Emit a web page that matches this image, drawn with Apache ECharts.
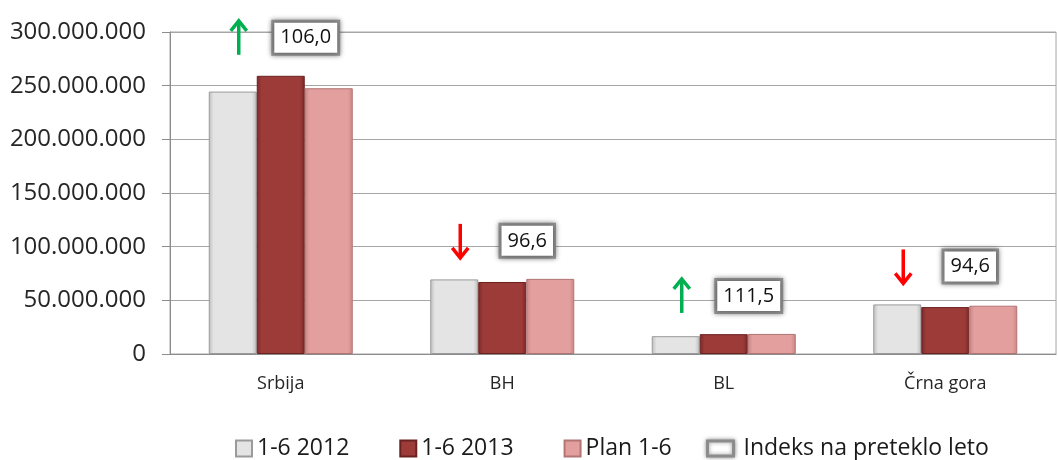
<!DOCTYPE html>
<html>
<head>
<meta charset="utf-8">
<script src="https://cdn.jsdelivr.net/npm/echarts@6/dist/echarts.min.js"></script>
<style>
  html, body { margin: 0; padding: 0; background: #fff; }
  #chart { width: 1058px; height: 460px; }
</style>
</head>
<body>
<div id="chart"></div>
<script>
// kategorije i vrednosti procitane sa slike
const categories = ['Srbija', 'BH', 'BL', 'Črna gora']
const values2012 = [244500000, 69500000, 16600000, 46200000]
const values2013 = [259200000, 67100000, 18500000, 43700000]
const plan16 = [247600000, 70000000, 18700000, 45000000]
const indeks = [106.0, 96.6, 111.5, 94.6]

const FONT = '"Open Sans", "DejaVu Sans", sans-serif'

// boje stubaca (ivice tamnije zbog 3D izgleda)
function bevel (edge, base) {
  return new echarts.graphic.LinearGradient(0, 0, 1, 0, [
    { offset: 0, color: edge },
    { offset: 0.1, color: base },
    { offset: 0.9, color: base },
    { offset: 1, color: edge }
  ])
}

function formatNum (v) {
  return String(v).replace(/\B(?=(\d{3})+(?!\d))/g, '.')
}

// za svaki region najveca vrednost, iznad nje ide oznaka indeksa
const indeksData = categories.map((c, i) => [i, Math.max(values2012[i], values2013[i], plan16[i]), indeks[i]])

const chart = echarts.init(document.getElementById('chart'))

const option = {
  animation: false,
  textStyle: { fontFamily: FONT },
  grid: {
    left: 170,
    right: 2,
    top: 32,
    bottom: 106,
    show: true,
    borderColor: '#a6a6a6',
    borderWidth: 1
  },
  legend: [
    {
      left: 235,
      top: 437,
      padding: 0,
      itemWidth: 16,
      itemHeight: 16,
      itemGap: 50,
      icon: 'rect',
      textStyle: { fontSize: 23, color: '#1a1a1a', fontFamily: FONT },
      data: ['1-6 2012', '1-6 2013', 'Plan 1-6']
    },
    {
      left: 706,
      top: 437,
      padding: 0,
      itemWidth: 26,
      itemHeight: 15,
      textStyle: { fontSize: 23, color: '#1a1a1a', fontFamily: FONT, padding: [0, 0, 0, 5] },
      data: [{
        name: 'Indeks na preteklo leto',
        icon: 'rect',
        itemStyle: {
          color: '#fff',
          borderColor: '#8c8c8c',
          borderWidth: 3,
          shadowBlur: 4,
          shadowColor: 'rgba(0,0,0,0.4)'
        }
      }]
    }
  ],
  xAxis: {
    type: 'category',
    data: categories,
    axisLine: { lineStyle: { color: '#8c8c8c' } },
    axisTick: { length: 8, lineStyle: { color: '#8c8c8c' } },
    axisLabel: { fontSize: 18, color: '#262626', margin: 21 }
  },
  yAxis: {
    type: 'value',
    min: 0,
    max: 300000000,
    interval: 50000000,
    axisLine: { show: true, lineStyle: { color: '#8c8c8c' } },
    axisTick: { show: true, length: 8, lineStyle: { color: '#8c8c8c' } },
    splitLine: { lineStyle: { color: '#a6a6a6' } },
    axisLabel: {
      fontSize: 24,
      color: '#262626',
      margin: 24,
      formatter: formatNum
    }
  },
  series: [
    {
      name: '1-6 2012',
      type: 'bar',
      data: values2012,
      barWidth: 48,
      barGap: '0%',
      itemStyle: { color: bevel('#bdbdbd', '#e4e4e4'), borderColor: '#9a9a9a', borderWidth: 1 }
    },
    {
      name: '1-6 2013',
      type: 'bar',
      data: values2013,
      barWidth: 48,
      itemStyle: { color: bevel('#7a2827', '#9d3b39'), borderColor: '#6a2221', borderWidth: 1 }
    },
    {
      name: 'Plan 1-6',
      type: 'bar',
      data: plan16,
      barWidth: 48,
      itemStyle: { color: bevel('#c98584', '#e39f9e'), borderColor: '#b07574', borderWidth: 1 }
    },
    {
      name: 'Indeks na preteklo leto',
      type: 'custom',
      data: indeksData,
      encode: { x: 0, y: 1 },
      z: 5,
      renderItem (params, api) {
        const p = api.coord([api.value(0), api.value(1)])
        const idx = api.value(2)
        const cy = p[1] - 38
        const ax = p[0] - 42
        const up = idx >= 100
        const color = up ? '#00b050' : '#ff0000'
        const tip = up ? cy - 17 : cy + 17
        const tail = up ? cy + 17 : cy - 17
        const hy = up ? tip + 10 : tip - 10
        return {
          type: 'group',
          children: [
            {
              type: 'line',
              shape: { x1: ax, y1: tail, x2: ax, y2: tip + (up ? 1.5 : -1.5) },
              style: { stroke: color, lineWidth: 3.5 }
            },
            {
              type: 'polyline',
              shape: { points: [[ax - 8, hy], [ax, tip], [ax + 8, hy]] },
              style: { stroke: color, lineWidth: 3.5, fill: null }
            },
            {
              type: 'text',
              x: p[0] + 25,
              y: cy,
              style: {
                text: idx.toFixed(1).replace('.', ','),
                font: '20px ' + FONT,
                fill: '#111',
                align: 'center',
                verticalAlign: 'middle',
                backgroundColor: '#fff',
                borderColor: '#8c8c8c',
                borderWidth: 3,
                padding: [5, 6],
                shadowBlur: 5,
                shadowColor: 'rgba(0,0,0,0.45)'
              }
            }
          ]
        }
      }
    }
  ]
}

chart.setOption(option)
</script>
</body>
</html>
